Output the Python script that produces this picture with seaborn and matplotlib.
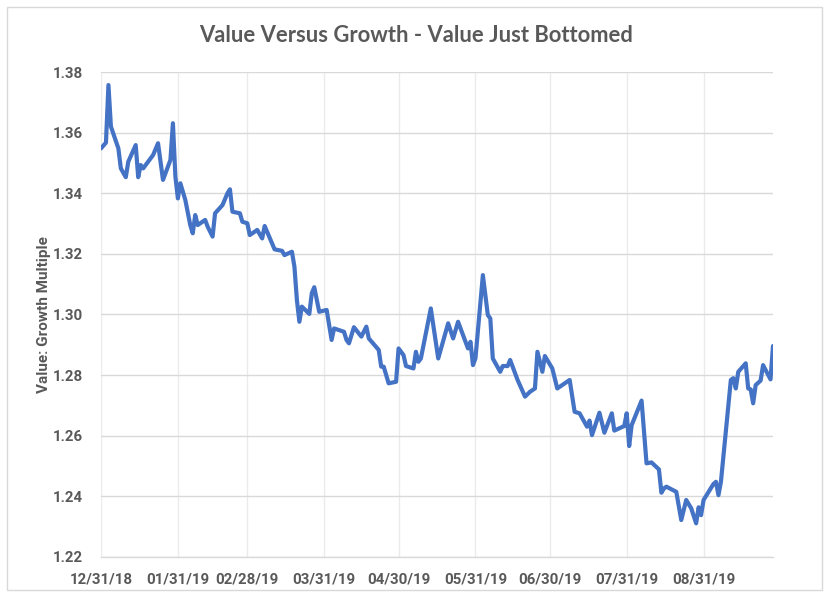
import matplotlib
matplotlib.use("Agg")
import matplotlib.pyplot as plt
import matplotlib.patches as mpatches
import seaborn as sns
import pandas as pd

dates = [
    "2018-12-31", "2019-01-02", "2019-01-03", "2019-01-04", "2019-01-07", "2019-01-08",
    "2019-01-10", "2019-01-11", "2019-01-14", "2019-01-15", "2019-01-16", "2019-01-17",
    "2019-01-21", "2019-01-23", "2019-01-25", "2019-01-28", "2019-01-29", "2019-01-30",
    "2019-01-31", "2019-02-01", "2019-02-03", "2019-02-05", "2019-02-06", "2019-02-07",
    "2019-02-08", "2019-02-11", "2019-02-12", "2019-02-14", "2019-02-15", "2019-02-18",
    "2019-02-20", "2019-02-21", "2019-02-22", "2019-02-25", "2019-02-26", "2019-02-28",
    "2019-03-01", "2019-03-04", "2019-03-06", "2019-03-07", "2019-03-11", "2019-03-14",
    "2019-03-15", "2019-03-18", "2019-03-19", "2019-03-20", "2019-03-21", "2019-03-22",
    "2019-03-25", "2019-03-26", "2019-03-27", "2019-03-29", "2019-03-31", "2019-04-01",
    "2019-04-03", "2019-04-04", "2019-04-08", "2019-04-09", "2019-04-10", "2019-04-12",
    "2019-04-15", "2019-04-17", "2019-04-18", "2019-04-22", "2019-04-23", "2019-04-24",
    "2019-04-26", "2019-04-29", "2019-04-30", "2019-05-02", "2019-05-03", "2019-05-06",
    "2019-05-07", "2019-05-08", "2019-05-09", "2019-05-13", "2019-05-16", "2019-05-20",
    "2019-05-22", "2019-05-24", "2019-05-28", "2019-05-29", "2019-05-30", "2019-05-31",
    "2019-06-03", "2019-06-05", "2019-06-06", "2019-06-07", "2019-06-10", "2019-06-11",
    "2019-06-13", "2019-06-14", "2019-06-17", "2019-06-20", "2019-06-22", "2019-06-24",
    "2019-06-25", "2019-06-27", "2019-06-28", "2019-07-01", "2019-07-03", "2019-07-08",
    "2019-07-10", "2019-07-12", "2019-07-15", "2019-07-16", "2019-07-17", "2019-07-20",
    "2019-07-22", "2019-07-25", "2019-07-26", "2019-07-30", "2019-07-31", "2019-08-01",
    "2019-08-02", "2019-08-06", "2019-08-08", "2019-08-10", "2019-08-13", "2019-08-14",
    "2019-08-15", "2019-08-16", "2019-08-20", "2019-08-22", "2019-08-24", "2019-08-26",
    "2019-08-28", "2019-08-29", "2019-08-30", "2019-08-31", "2019-09-04", "2019-09-05",
    "2019-09-06", "2019-09-07", "2019-09-11", "2019-09-12", "2019-09-13", "2019-09-14",
    "2019-09-17", "2019-09-18", "2019-09-19", "2019-09-20", "2019-09-21", "2019-09-23",
    "2019-09-24", "2019-09-27", "2019-09-28",
]

multiple = [
    1.3548, 1.3567, 1.3757, 1.3620, 1.3548, 1.3482,
    1.3453, 1.3504, 1.3559, 1.3453, 1.3493, 1.3482,
    1.3526, 1.3565, 1.3444, 1.3510, 1.3631, 1.3455,
    1.3383, 1.3433, 1.3378, 1.3295, 1.3268, 1.3328,
    1.3295, 1.3312, 1.3290, 1.3257, 1.3334, 1.3361,
    1.3400, 1.3413, 1.3339, 1.3334, 1.3306, 1.3301,
    1.3262, 1.3279, 1.3251, 1.3292, 1.3215, 1.3210,
    1.3196, 1.3207, 1.3158, 1.3048, 1.2976, 1.3026,
    1.3002, 1.3070, 1.3090, 1.3009, 1.3013, 1.3015,
    1.2916, 1.2954, 1.2943, 1.2916, 1.2905, 1.2958,
    1.2927, 1.2960, 1.2921, 1.2883, 1.2828, 1.2828,
    1.2773, 1.2778, 1.2888, 1.2866, 1.2830, 1.2822,
    1.2877, 1.2844, 1.2855, 1.3020, 1.2855, 1.2971,
    1.2921, 1.2976, 1.2888, 1.2910, 1.2833, 1.2855,
    1.3130, 1.2998, 1.2987, 1.2855, 1.2811, 1.2830,
    1.2830, 1.2850, 1.2784, 1.2729, 1.2745, 1.2756,
    1.2877, 1.2811, 1.2863, 1.2822, 1.2756, 1.2784,
    1.2679, 1.2674, 1.2630, 1.2650, 1.2602, 1.2676,
    1.2610, 1.2674, 1.2617, 1.2632, 1.2674, 1.2566,
    1.2635, 1.2716, 1.2509, 1.2512, 1.2489, 1.2412,
    1.2426, 1.2432, 1.2415, 1.2322, 1.2388, 1.2361,
    1.2311, 1.2364, 1.2338, 1.2388, 1.2441, 1.2448,
    1.2404, 1.2448, 1.2784, 1.2790, 1.2756, 1.2811,
    1.2839, 1.2756, 1.2753, 1.2707, 1.2767, 1.2782,
    1.2833, 1.2786, 1.2896,
]

x_ticks = ["2018-12-31", "2019-01-31", "2019-02-28", "2019-03-31", "2019-04-30",
           "2019-05-31", "2019-06-30", "2019-07-31", "2019-08-31"]
y_ticks = [1.22, 1.24, 1.26, 1.28, 1.30, 1.32, 1.34, 1.36, 1.38]

title = "Value Versus Growth - Value Just Bottomed"
ylabel = "Value: Growth Multiple"

df = pd.DataFrame({"date": pd.to_datetime(dates), "multiple": multiple})

sns.set_style("white")
plt.rcParams["font.family"] = ["Lato", "DejaVu Sans"]

fig = plt.figure(figsize=(8.3, 6.11), dpi=100)
ax = fig.add_axes([101 / 830, 1 - 557 / 611, (773 - 101) / 830, (557 - 72) / 611])

# outer chart border
fig.patches.append(mpatches.Rectangle((7 / 830, 1 - 590 / 611), 815 / 830, 583 / 611,
                                      transform=fig.transFigure, fill=False,
                                      edgecolor="#d9d9d9", linewidth=1))

sns.lineplot(data=df, x="date", y="multiple", ax=ax, color="#4472C4", linewidth=3)

ax.set_xlim(pd.Timestamp("2018-12-31"), pd.Timestamp("2018-12-31") + pd.Timedelta(days=271))
ax.set_ylim(1.22, 1.38)
ax.set_yticks(y_ticks)
ax.set_yticklabels([f"{v:.2f}" for v in y_ticks])
ax.set_xticks(pd.to_datetime(x_ticks))
ax.set_xticklabels([pd.Timestamp(d).strftime("%m/%d/%y") for d in x_ticks])

ax.grid(axis="y", color="#d9d9d9", linewidth=1)
ax.grid(axis="x", color="#ebebeb", linewidth=1)
ax.set_axisbelow(True)
for s in ["top", "right", "left"]:
    ax.spines[s].set_visible(False)
ax.spines["bottom"].set_color("#d9d9d9")
ax.spines["bottom"].set_linewidth(1)

ax.tick_params(axis="x", length=5, color="#d9d9d9", pad=6)
ax.tick_params(axis="y", length=0, pad=13)
for lab in ax.get_xticklabels() + ax.get_yticklabels():
    lab.set_fontfamily(["Roboto", "DejaVu Sans"])
    lab.set_fontweight("bold")
    lab.set_fontsize(10.8)
    lab.set_color("#595959")

ax.set_xlabel("")
ax.set_ylabel(ylabel, fontsize=11, fontweight="bold", color="#595959", labelpad=1,
              fontfamily=["Roboto", "DejaVu Sans"])
fig.text(416 / 830, 1 - 36 / 611, title, ha="center", va="center", fontsize=15.8,
         fontweight="bold", color="#595959")

fig.savefig("out.png", dpi=100)
